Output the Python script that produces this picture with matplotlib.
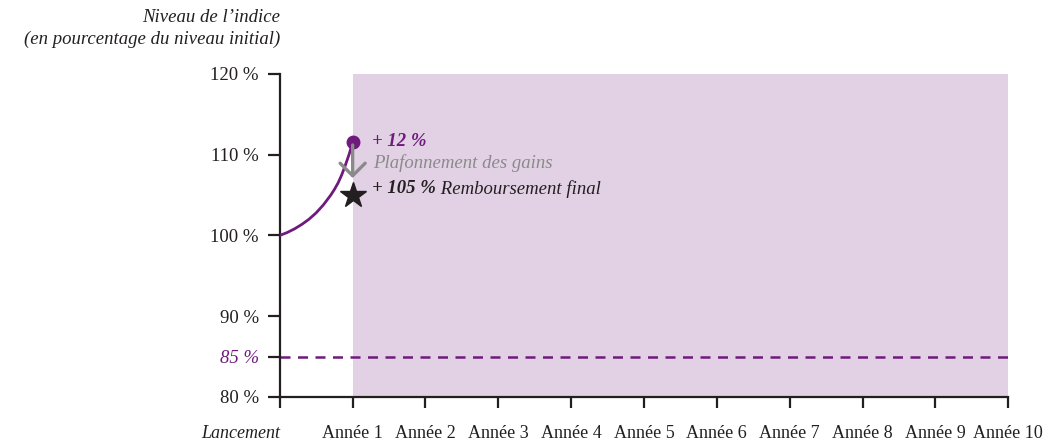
import numpy as np
import matplotlib.pyplot as plt

# colours
purple = "#6e1b7c"
shade = "#e2d1e4"
grey = "#8a8a8a"
dark = "#231f20"

# data
curve_x = [0, 0.1, 0.2, 0.3, 0.4, 0.5, 0.6, 0.7, 0.75, 0.8, 0.85, 0.9, 0.95, 0.98, 1.0]
curve_y = [100, 100.35, 100.8, 101.35, 102.0, 102.8, 103.8, 105.0, 105.7,
           106.5, 107.5, 108.7, 110.0, 110.9, 111.6]
final_x = 1
final_y = 105.0
barrier = 85
x_ticks = list(range(0, 11))
x_labels = ["Lancement"] + ["Année %d" % i for i in range(1, 11)]
y_ticks = [80, 85, 90, 100, 110, 120]
y_labels = ["80 %", "85 %", "90 %", "100 %", "110 %", "120 %"]

plt.rcParams["font.family"] = ["Liberation Serif", "DejaVu Serif"]

fig = plt.figure(figsize=(10.48, 4.4), dpi=100)
ax = fig.add_axes([0.267, 0.098, 0.695, 0.734])

# shaded observation period
ax.axvspan(1, 10, ymin=0, ymax=1, color=shade, lw=0, zorder=0)

# barrier line
ax.plot([0, 10], [barrier, barrier], color=purple, lw=1.8, ls=(0, (4, 3)), zorder=2)

# index curve
ax.plot(curve_x, curve_y, color=purple, lw=2, zorder=3,
        solid_capstyle="round", solid_joinstyle="round")
ax.plot(curve_x[-1], curve_y[-1], "o", color=purple, ms=9, zorder=4)

# cap arrow
ax.annotate("", xy=(final_x, 107.1), xytext=(final_x, curve_y[-1] - 0.4),
            arrowprops=dict(arrowstyle="->, head_length=0.45, head_width=0.45",
                            color=grey, lw=2.4, mutation_scale=20,
                            shrinkA=0, shrinkB=0), zorder=4)
ax.plot(final_x, final_y, "*", color=dark, ms=19, zorder=5)

# annotations
ax.text(1.27, 111.6, "+ 12 %", color=purple, fontsize=13.5, fontstyle="italic",
        fontweight="bold", va="center")
ax.text(1.28, 108.9, "Plafonnement des gains", color=grey, fontsize=13.5,
        fontstyle="italic", va="center")
t1 = ax.text(1.27, 105.8, "+ 105 %", color=dark, fontsize=13.5, fontstyle="italic",
             fontweight="bold", va="center")
ax.annotate(" Remboursement final", xy=(1, 0.5), xycoords=t1, va="center",
            color=dark, fontsize=13.5, fontstyle="italic")

# axes
ax.set_xlim(0, 10)
ax.set_ylim(80, 120)
ax.set_xticks(x_ticks)
ax.set_xticklabels(x_labels, fontsize=13, color=dark)
ax.set_yticks(y_ticks)
ax.set_yticklabels(y_labels, fontsize=13.5, color=dark)
ax.get_xticklabels()[0].set_fontstyle("italic")
ax.get_xticklabels()[0].set_horizontalalignment("right")
ax.get_yticklabels()[1].set_fontstyle("italic")
ax.get_yticklabels()[1].set_color(purple)

for s in ["top", "right"]:
    ax.spines[s].set_visible(False)
for s in ["left", "bottom"]:
    ax.spines[s].set_color(dark)
    ax.spines[s].set_linewidth(1.6)
ax.tick_params(axis="y", length=9, width=1.6, color=dark, pad=6)
ax.tick_params(axis="x", length=8, width=1.6, color=dark, pad=12)

fig.text(0.267, 0.935, "Niveau de l\u2019indice\n(en pourcentage du niveau initial)",
         ha="right", va="center", fontsize=13.5, fontstyle="italic", color=dark,
         linespacing=1.35)

fig.savefig("out.png", dpi=100)
